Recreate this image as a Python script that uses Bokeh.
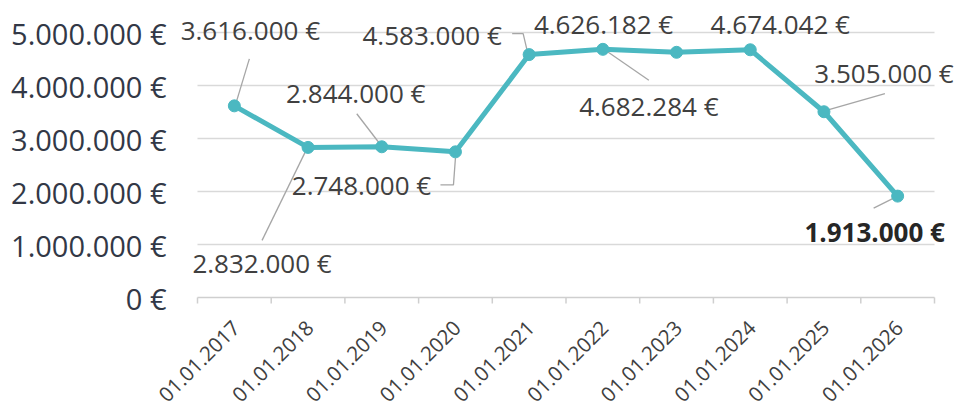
import math
from bokeh.plotting import figure
from bokeh.models import ColumnDataSource
from bokeh.core.properties import value
from bokeh.embed import file_html
from bokeh.resources import INLINE

# ---------------- data ----------------
DATES = ["01.01.2017", "01.01.2018", "01.01.2019", "01.01.2020", "01.01.2021",
         "01.01.2022", "01.01.2023", "01.01.2024", "01.01.2025", "01.01.2026"]
VALUES = [3616000, 2832000, 2844000, 2748000, 4583000,
          4682284, 4626182, 4674042, 3505000, 1913000]
LABELS = ["3.616.000 €", "2.832.000 €", "2.844.000 €", "2.748.000 €", "4.583.000 €",
          "4.682.284 €", "4.626.182 €", "4.674.042 €", "3.505.000 €", "1.913.000 €"]
Y_TICKS = [0, 1000000, 2000000, 3000000, 4000000, 5000000]
Y_TICK_LABELS = ["0 €", "1.000.000 €", "2.000.000 €", "3.000.000 €", "4.000.000 €", "5.000.000 €"]

# ---------------- layout / style ----------------
PX_CAT = 73.7          # pixels per category
PX_M = 53.0            # pixels per 1.000.000
FRAME_W = 959
FRAME_H = 409
X0_PX = 197            # px of category boundary 0
ZERO_PX = 297          # px (from top) of value 0

x_start = -X0_PX / PX_CAT
x_end = x_start + FRAME_W / PX_CAT
y_end = ZERO_PX / PX_M * 1e6
y_start = -(FRAME_H - ZERO_PX) / PX_M * 1e6

LINE_COLOR = "#4bb8c1"
TEXT_COLOR = "#404040"
AXIS_TEXT = "#323846"
GRID_COLOR = "#d9d9d9"
AXIS_COLOR = "#cfcfcf"
LEADER_COLOR = "#a6a6a6"
FONT = "Open Sans"

# label offsets (px, y down) relative to the point
LABEL_OFF = [(16, -76), (-46, 116), (-26, -54), (-94, 33), (-97, -20),
             (46, 57), (-73, -28), (30, -26), (60, -39), (-23, 36)]
BOLD = [False] * 9 + [True]
# leader polylines, px offsets (y down) relative to the point
LEADERS = {
    0: [(15, -47), (2, -4)],
    1: [(-46, 93), (-3, 5)],
    2: [(-25, -33), (-2, -3)],
    3: [(-15, 33), (-2, 33), (0, 6)],
    4: [(-17, -21), (-6, -21), (-2, -4)],
    5: [(46, 31), (4, 2)],
    8: [(61, -18), (5, -2)],
    9: [(-24, 12), (-4, 2)],
}

p = figure(frame_width=FRAME_W, frame_height=FRAME_H, output_backend="svg",
           toolbar_location=None, x_axis_location=None, y_axis_location=None,
           x_range=(x_start, x_end), y_range=(y_start, y_end),
           min_border_left=0, min_border_right=0,
           min_border_top=0, min_border_bottom=0)
p.outline_line_color = None
p.xgrid.visible = False
p.ygrid.visible = False
p.background_fill_color = "white"
p.border_fill_color = "white"

n = len(VALUES)
xs = [i + 0.5 for i in range(n)]

# value axis: grid lines across the category area and tick labels
p.segment(x0=[0] * 5, x1=[n] * 5, y0=Y_TICKS[1:], y1=Y_TICKS[1:],
          line_color=GRID_COLOR, line_width=1.5)
p.text(x=[0] * len(Y_TICKS), y=Y_TICKS, text=Y_TICK_LABELS, x_offset=-31, y_offset=1,
       text_align="right", text_baseline="middle",
       text_font=value(FONT), text_font_size="29px", text_color=AXIS_TEXT)

# category axis line, boundary ticks and rotated labels
p.segment(x0=[0], x1=[n], y0=[0], y1=[0], line_color=AXIS_COLOR, line_width=1.5)
tick_len = 6 / PX_M * 1e6
p.segment(x0=list(range(n + 1)), x1=list(range(n + 1)), y0=[0] * (n + 1),
          y1=[-tick_len] * (n + 1), line_color=AXIS_COLOR, line_width=1.5)
p.text(x=xs, y=[0] * n, text=DATES, angle=math.pi / 4, x_offset=2, y_offset=27,
       text_align="right", text_baseline="middle",
       text_font=value(FONT), text_font_size="20.5px", text_color=TEXT_COLOR)

# leader lines
lx, ly = [], []
for i, pts in LEADERS.items():
    lx.append([xs[i] + dx / PX_CAT for dx, dy in pts])
    ly.append([VALUES[i] - dy / PX_M * 1e6 for dx, dy in pts])
p.multi_line(xs=lx, ys=ly, line_color=LEADER_COLOR, line_width=1.3)

# series
src = ColumnDataSource(dict(x=xs, y=VALUES))
p.line("x", "y", source=src, line_color=LINE_COLOR, line_width=5, line_join="round")
p.scatter("x", "y", source=src, size=12, fill_color=LINE_COLOR, line_color=LINE_COLOR)

# data labels
for bold in (False, True):
    idx = [i for i in range(n) if BOLD[i] == bold]
    lsrc = ColumnDataSource(dict(
        x=[xs[i] for i in idx], y=[VALUES[i] for i in idx],
        t=[LABELS[i] for i in idx],
        xo=[LABEL_OFF[i][0] for i in idx], yo=[LABEL_OFF[i][1] for i in idx]))
    p.text("x", "y", text="t", source=lsrc, x_offset="xo", y_offset="yo",
           text_align="center", text_baseline="middle",
           text_font=value(FONT), text_font_size="26px",
           text_font_style="bold" if bold else "normal",
           text_color="#262626" if bold else TEXT_COLOR)

open("out.html", "w").write(file_html(p, INLINE))
